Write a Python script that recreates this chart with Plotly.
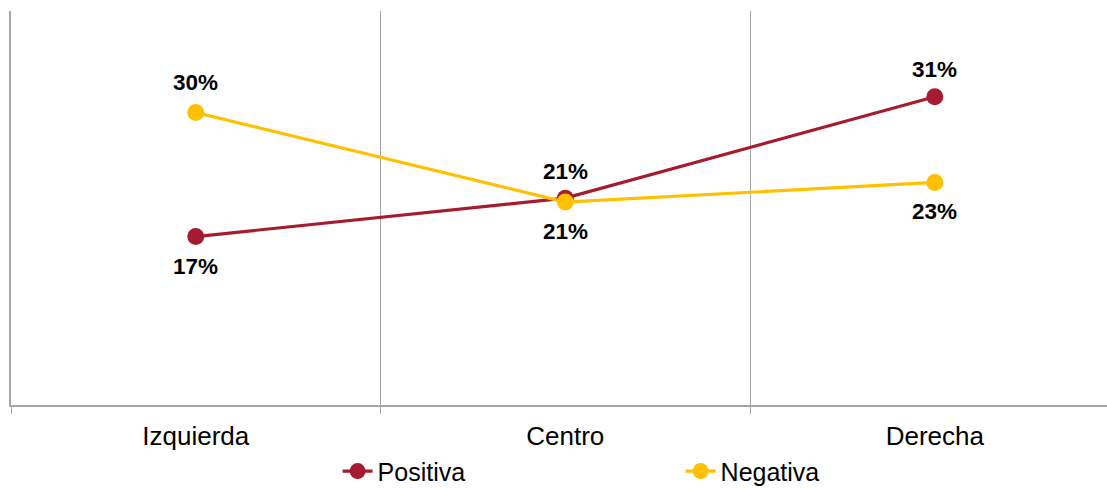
import plotly.graph_objects as go

categories = ["Izquierda", "Centro", "Derecha"]
positiva = [17.1, 21.0, 31.3]
negativa = [29.7, 20.6, 22.6]
series_names = ["Positiva", "Negativa"]

RED = "#A51C30"
YELLOW = "#FFC000"
FONT = "Liberation Sans, Arial, sans-serif"

fig = go.Figure()
fig.add_trace(go.Scatter(x=categories, y=positiva, name=series_names[0], mode="lines+markers",
                         line=dict(color=RED, width=3.2), marker=dict(color=RED, size=17)))
fig.add_trace(go.Scatter(x=categories, y=negativa, name=series_names[1], mode="lines+markers",
                         line=dict(color=YELLOW, width=3.2), marker=dict(color=YELLOW, size=17)))

pos_shift = [-30, 27, 27]
neg_shift = [30, -29, -29]
for vals, shifts in ((positiva, pos_shift), (negativa, neg_shift)):
    for c, v, s in zip(categories, vals, shifts):
        fig.add_annotation(x=c, y=v, text=f"{round(v)}%", showarrow=False, yshift=s,
                           font=dict(family=FONT, size=22.5, color="black", weight="bold"))

# page body has an 8px default margin: 1099x472 figure fills the 1107x488 window;
# the post script then removes the body margin and grows the figure to the full window
# (same plot-area position), so the legend is not clipped at the bottom.
fig.update_layout(
    width=1099, height=472, autosize=False,
    margin=dict(l=3, r=0, t=3, b=75, autoexpand=False),
    paper_bgcolor="white", plot_bgcolor="white",
    font=dict(family=FONT, color="black"),
    showlegend=True,
    legend=dict(orientation="h", x=0.298, xanchor="left", y=-0.11, yanchor="top",
                entrywidth=298, entrywidthmode="pixels", font=dict(size=25, family=FONT),
                tracegroupgap=0),
    xaxis=dict(type="category", range=[-0.5, 2.466], tickson="boundaries",
               showgrid=True, gridcolor="#A6A6A6", gridwidth=1,
               showline=True, linecolor="#A6A6A6", linewidth=1.5,
               ticks="outside", ticklen=7, tickcolor="#A6A6A6",
               ticklabelstandoff=7,
               tickfont=dict(size=26, family=FONT), zeroline=False),
    yaxis=dict(range=[0, 40], showticklabels=False, showgrid=False, zeroline=False,
               showline=True, linecolor="#A6A6A6", linewidth=1.5, ticks=""),
)

post = (
    "document.body.style.margin='0';"
    "document.body.style.overflow='hidden';"
    "var gd=document.getElementById('{plot_id}');"
    "gd.style.width='1107px';gd.style.height='488px';"
    "Plotly.relayout(gd,{width:1107,height:488,'margin.l':11,'margin.t':11,'margin.b':83});"
)

fig.write_html("out.html", config={"displayModeBar": False}, post_script=post)
